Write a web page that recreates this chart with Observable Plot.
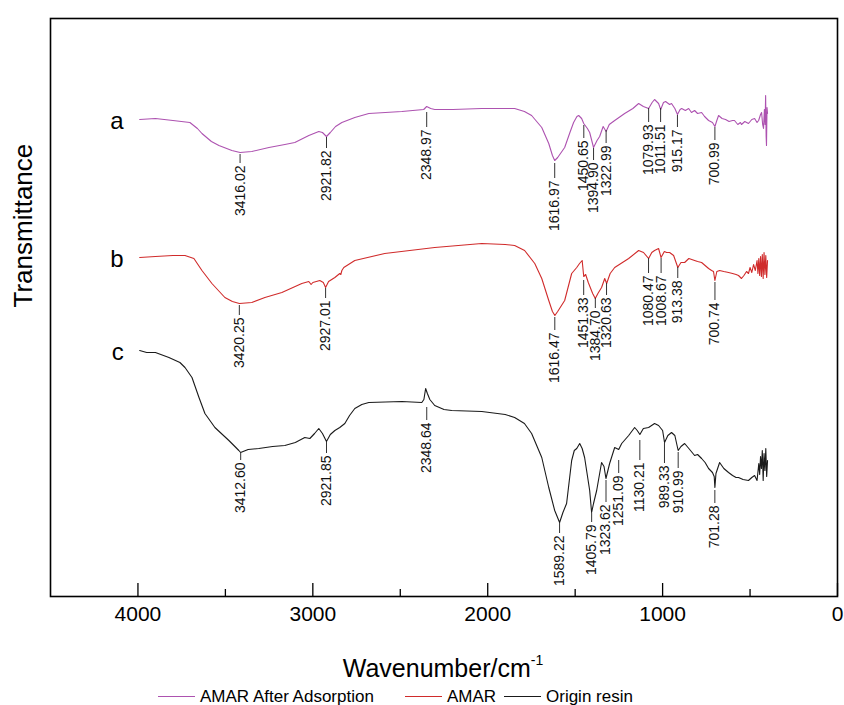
<!DOCTYPE html>
<html><head><meta charset="utf-8">
<script src="https://cdn.jsdelivr.net/npm/d3@7"></script>
<script src="https://cdn.jsdelivr.net/npm/@observablehq/plot@0.6"></script>
<style>
body{margin:0;background:#fff;font-family:"Liberation Sans",Arial,sans-serif;color:#000;}
#wrap{position:relative;width:844px;height:705px;overflow:hidden;}
#xtitle{position:absolute;top:648px;left:0;width:886px;text-align:center;font-size:25px;line-height:30px;}
#xtitle sup{font-size:14px;position:relative;top:-3px;}
.lg{position:absolute;top:687px;font-size:17px;line-height:20px;white-space:nowrap;}
.lg .sw{display:inline-block;width:37px;height:0;border-top:1.3px solid;vertical-align:middle;margin-right:5px;position:relative;top:-1px;}
</style></head>
<body><div id="wrap"><div id="chart"></div>
<div id="xtitle">Wavenumber/cm<sup>-1</sup></div>
<div id="legend"></div>
</div>
<script>
// Series names and colours
const seriesNames = ["AMAR After Adsorption", "AMAR", "Origin resin"];
const seriesKeys = ["a", "b", "c"];
const seriesColors = ["#ad52b0", "#d02b2b", "#1a1a1a"];

// Spectrum a: AMAR After Adsorption (wavenumber, transmittance a.u.)
const wnA = [3990,3900,3800,3703,3660,3634,3580,3537,3463,3416,3349,3251,3160,3103,3023,2966,2945,2922,2900,2870,2834,2760,2680,2491,2366,2349,2326,2303,2200,2034,1900,1846,1790,1749,1691,1651,1630,1617,1600,1560,1530,1509,1490,1480,1463,1451,1430,1417,1395,1375,1360,1340,1323,1305,1274,1217,1170,1137,1110,1080,1060,1046,1023,1011,995,983,960,949,930,915,900,891,870,851,835,817,800,777,760,737,715,701,690,680,660,640,620,600,589,570,555,549,530,509,490,474,460,451,440,434,428,423,418,414,411,408,406,403,400];
const tA = [479,480,478,476,470,465,457,453,448,446,447,451,454,456,463,467,466,462,466,472,476,481,485,487,489,492,490,489,489,490,490,490,487,483,471,455,443,438,441,451,466,476,482,483,480,475,470,466,451,458,462,472,467,474,478,485,490,495,492,490,496,499,495,489,496,497,494,495,490,484,489,490,488,490,486,488,485,486,482,478,476,472,478,483,480,479,477,478,478,474,476,474,477,475,479,480,476,478,484,486,474,470,489,474,503,462,453,491,485];

// Spectrum b: AMAR
const wnB = [3990,3900,3800,3731,3680,3634,3577,3503,3460,3420,3349,3274,3177,3063,3023,3010,3000,2960,2940,2927,2910,2874,2846,2840,2834,2823,2760,2589,2303,2034,1900,1846,1789,1731,1691,1651,1630,1616,1600,1560,1520,1491,1475,1460,1451,1440,1425,1400,1385,1370,1349,1331,1320,1300,1274,1194,1137,1109,1080,1062,1046,1023,1009,990,977,960,937,913,895,874,850,817,800,777,757,737,720,709,701,690,674,650,623,600,580,566,549,535,520,509,500,490,480,470,460,455,450,445,440,435,430,425,420,415,410,405,400];
const tB = [341,342,343,343,340,328,315,301,297,295,296,301,306,315,317,314,316,318,316,311,317,321,325,324,328,331,338,345,351,355,354,353,348,335,320,298,287,283,287,298,325,331,335,338,322,324,316,305,300,305,311,320,315,325,331,340,348,346,340,346,348,350,341,347,346,346,343,331,336,336,340,338,337,336,333,330,328,327,318,327,328,327,326,325,324,323,320,323,327,325,331,326,334,328,338,325,340,323,342,322,344,320,346,324,343,321,338];

// Spectrum c: Origin resin
const wnC = [3990,3950,3900,3823,3760,3731,3691,3651,3617,3560,3480,3423,3413,3370,3309,3230,3160,3100,3046,3017,2990,2966,2945,2922,2900,2874,2846,2817,2790,2760,2720,2680,2491,2377,2365,2355,2345,2331,2303,2250,2206,2034,1900,1846,1790,1749,1691,1651,1617,1589,1570,1549,1520,1505,1491,1474,1460,1446,1417,1406,1395,1377,1349,1335,1324,1303,1274,1251,1234,1194,1160,1145,1130,1110,1080,1046,1023,1000,989,970,949,930,911,895,874,850,817,800,777,757,737,715,705,701,695,674,650,623,600,580,566,540,509,490,474,460,450,445,440,435,430,425,420,415,410,405,400];
const tC = [248,246,246,241,236,231,221,201,185,171,158,148,146,149,150,152,153,156,161,160,165,170,165,157,164,168,171,175,183,190,194,196,197,196,199,210,205,199,193,189,188,187,184,181,175,165,141,111,88,76,86,95,138,148,150,155,150,141,108,86,95,108,136,132,120,135,151,149,155,163,171,168,164,170,171,175,173,168,156,163,166,163,148,152,155,150,143,144,140,136,130,126,122,111,125,136,130,126,123,121,121,119,118,121,123,118,135,124,142,130,148,118,145,128,150,122,138];

// Peak labels: text, label line top and bottom (transmittance a.u.)
const peaksA = ["3416.02","2921.82","2348.97","1616.97","1450.65","1394.90","1322.99","1079.93","1011.51","915.17","700.99"];
const topA = [444,461,486,435,473,450,468,490,490,483,471];
const botA = [435,450,471,420,460,438,455,476,476,471,458];
const peaksB = ["3420.25","2927.01","1616.47","1451.33","1384.70","1320.63","1080.47","1008.67","913.38","700.74"];
const topB = [293,310,281,318,300,315,340,340,331,316];
const botB = [283,300,268,303,290,303,325,325,320,298];
const peaksC = ["3412.60","2921.85","2348.64","1589.22","1405.79","1323.62","1251.09","1130.21","989.33","910.99","701.28"];
const topC = [145,156,191,75,85,118,138,158,155,146,108];
const botC = [138,145,178,65,76,96,125,138,135,130,95];

// Axis ticks
const majorTicks = [4000, 3000, 2000, 1000, 0];
const minorTicks = [3500, 2500, 1500, 500];

const spectra = [[wnA,tA],[wnB,tB],[wnC,tC]];
const peakSets = [[peaksA,topA,botA],[peaksB,topB,botB],[peaksC,topC,botC]];

const lineData = spectra.flatMap(([wn,t],k) => wn.map((w,i) => ({wn:w, t:t[i], s:seriesNames[k]})));
const labelData = peakSets.flatMap(([p,top,bot]) => p.map((txt,i) => ({wn:+txt, text:txt, top:top[i], bot:bot[i]})));
const startData = spectra.map(([wn,t],k) => ({wn:wn[0], t:t[0], key:seriesKeys[k]}));

const chart = Plot.plot({
  width: 844, height: 640,
  marginLeft: 50, marginRight: 7, marginTop: 18, marginBottom: 44,
  style: {fontFamily: '"Liberation Sans", Arial, sans-serif', color: "#000", background: "#fff"},
  x: {domain: [4500, 0]},
  y: {domain: [2, 580], axis: null},
  color: {domain: seriesNames, range: seriesColors},
  marks: [
    Plot.line(lineData, {x: "wn", y: "t", z: "s", stroke: "s", strokeWidth: 1.1}),
    Plot.ruleX(labelData, {x: "wn", y1: "top", y2: "bot", stroke: "#333", strokeWidth: 1}),
    Plot.text(labelData, {x: "wn", y: "bot", text: "text", rotate: -90, textAnchor: "end", dy: 2, fontSize: 14, fill: "#111"}),
    Plot.text(startData, {x: "wn", y: "t", text: "key", textAnchor: "end", dx: -16, dy: 2, fontSize: 24}),
    Plot.text(["Transmittance"], {frameAnchor: "left", dx: -27, rotate: -90, fontSize: 26}),
    Plot.axisX({ticks: majorTicks, tickSize: -13, tickPadding: 23, tickFormat: d => String(d), fontSize: 21, label: null, strokeWidth: 1.3}),
    Plot.axisX({ticks: minorTicks, tickSize: -7, tickFormat: () => "", label: null, strokeWidth: 1.3}),
    Plot.frame({stroke: "#000", strokeWidth: 1.6})
  ]
});
document.getElementById("chart").appendChild(chart);

// Legend
const legendLeft = [158, 405, 504];
const legend = document.getElementById("legend");
seriesNames.forEach((n, k) => {
  const d = document.createElement("div");
  d.className = "lg";
  d.style.left = legendLeft[k] + "px";
  const sw = document.createElement("span");
  sw.className = "sw";
  sw.style.borderTopColor = seriesColors[k];
  d.appendChild(sw);
  d.appendChild(document.createTextNode(n));
  legend.appendChild(d);
});
</script>
</body></html>
